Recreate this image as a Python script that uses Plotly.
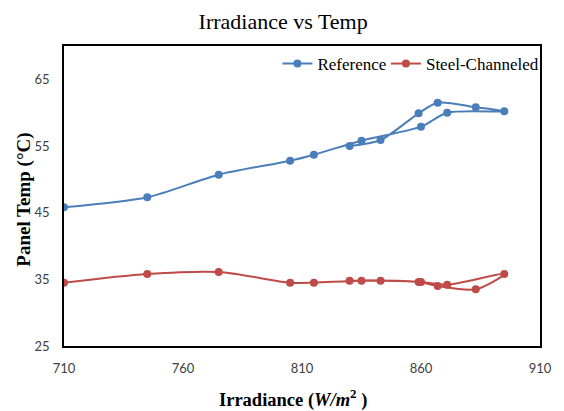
import plotly.graph_objects as go

# Irradiance readings (W/m^2) in logging order
irradiance = [710, 745, 775, 805, 815, 835, 860, 871, 895, 883, 867, 859, 843, 830]

# Panel temperatures (°C) for each configuration
temp_reference = [45.8, 47.3, 50.7, 52.8, 53.7, 55.8, 57.9, 60.0, 60.2, 60.8, 61.5, 59.9, 55.9, 55.0]
temp_steel = [34.5, 35.8, 36.1, 34.5, 34.5, 34.8, 34.6, 34.2, 35.8, 33.5, 34.0, 34.6, 34.8, 34.8]

x_ticks = [710, 760, 810, 860, 910]
y_ticks = [25, 35, 45, 55, 65]

BLUE = "#4A7EBB"
RED = "#BE4B48"
SERIF = "Liberation Serif"
SANS = "Lato"
W, H = 564, 411
L, R, T, B = 64, 16, 46, 65
PW, PH = W - L - R, H - T - B

fig = go.Figure()
fig.add_trace(go.Scatter(
    x=irradiance, y=temp_reference, name="Reference", legend="legend",
    mode="lines+markers", line=dict(color=BLUE, width=2, shape="spline", smoothing=0.8),
    marker=dict(color=BLUE, size=8),
))
fig.add_trace(go.Scatter(
    x=irradiance, y=temp_steel, name="Steel-Channeled", legend="legend2",
    mode="lines+markers", line=dict(color=RED, width=2, shape="spline", smoothing=0.8),
    marker=dict(color=RED, size=8),
))

axis_common = dict(
    showgrid=False, zeroline=False, showline=True, mirror=True,
    linecolor="#000000", linewidth=1.5, ticks="",
    tickfont=dict(family=SANS, size=13, color="#404040"),
)

legend_common = dict(
    orientation="h", y=1.0, yanchor="top",
    bgcolor="rgba(0,0,0,0)", font=dict(family=SERIF, size=17, color="#000000"),
    itemwidth=30,
)

fig.update_layout(
    width=W, height=H,
    margin=dict(l=L, r=R, t=T, b=B),
    paper_bgcolor="white", plot_bgcolor="white",
    title=dict(
        text="Irradiance vs Temp", x=0.502, xref="container", xanchor="center",
        y=1 - 21 / H, yref="container", yanchor="middle",
        font=dict(family=SERIF, size=22, color="#000000"),
    ),
    xaxis=dict(range=[710, 910], tickvals=x_ticks, ticklabelstandoff=10, **axis_common),
    yaxis=dict(range=[25, 70], tickvals=y_ticks, ticklabelstandoff=10, **axis_common),
    legend=dict(x=(281 - L) / PW, xanchor="left", **legend_common),
    # right edge kept 12px inside the figure so the frame keeps its width
    legend2=dict(x=(552 - L) / PW, xanchor="right", **legend_common),
    showlegend=True,
    annotations=[
        dict(
            text="<b>Panel Temp (°C)</b>", textangle=-90, xref="paper", yref="paper",
            x=(23 - L) / PW, y=(H - B - 200) / PH, showarrow=False,
            xanchor="center", yanchor="middle",
            font=dict(family=SERIF, size=19, color="#000000"),
        ),
        dict(
            text="<b>Irradiance (<i>W/m</i><sup>2</sup> )</b>", xref="paper", yref="paper",
            x=(297 - L) / PW, y=(H - B - 398) / PH, showarrow=False,
            xanchor="center", yanchor="middle",
            font=dict(family=SERIF, size=18.5, color="#000000"),
        ),
    ],
)

fig.write_html("out.html")
